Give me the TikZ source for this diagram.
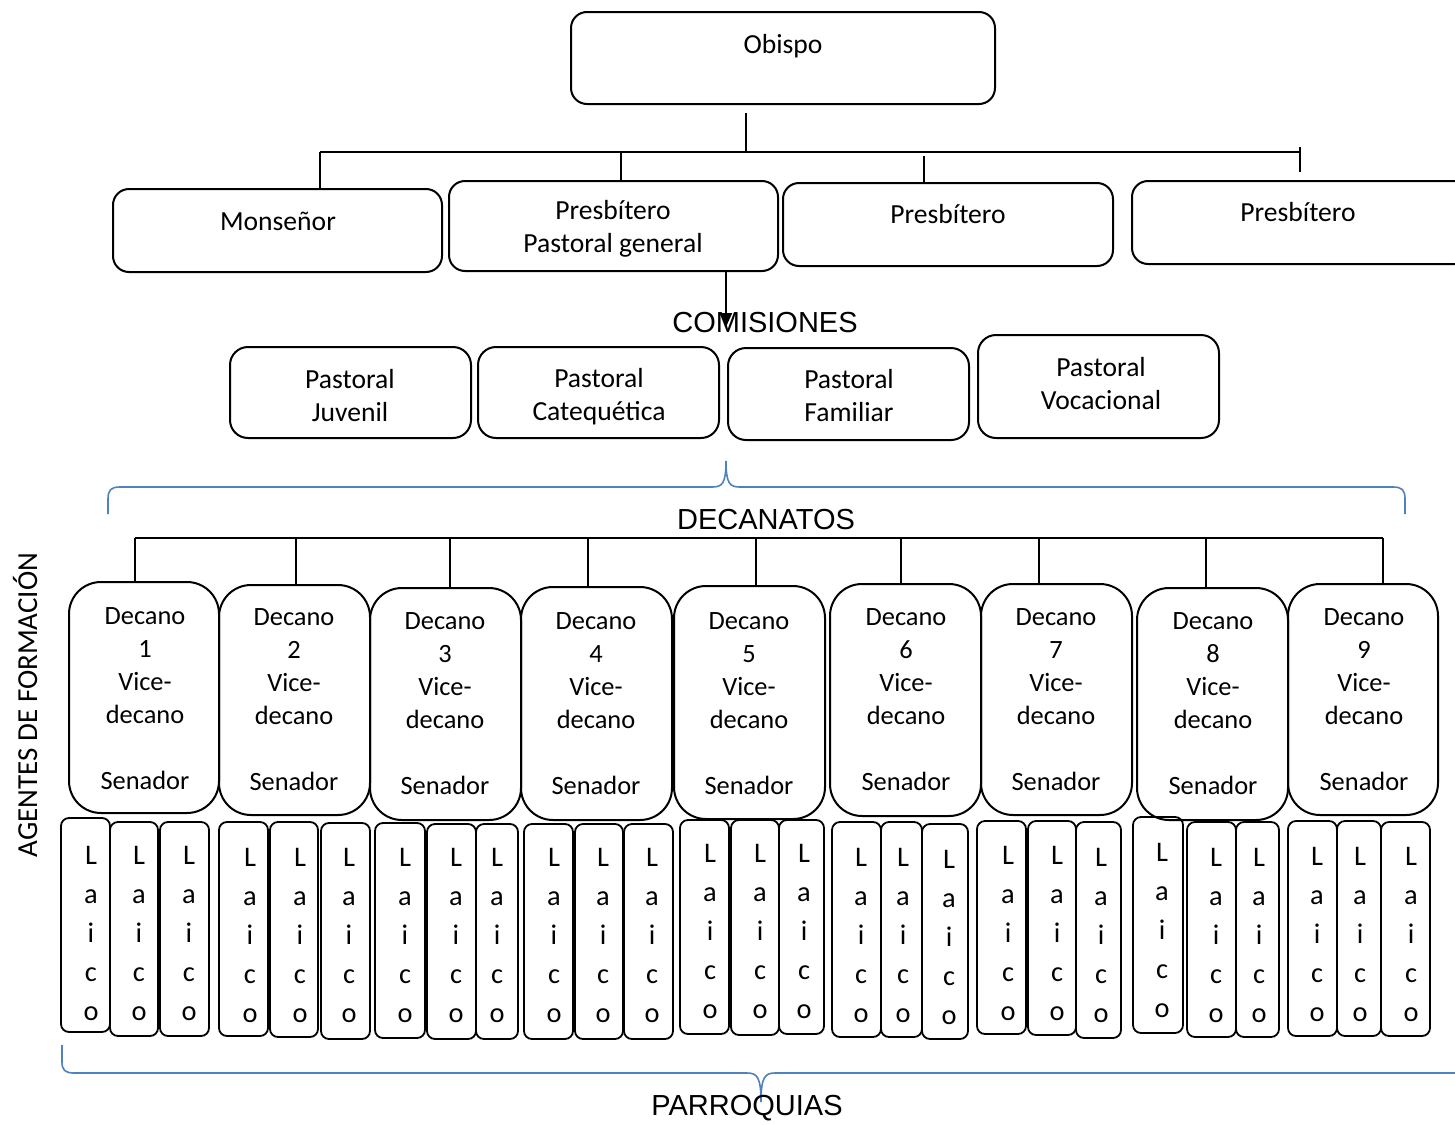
\documentclass[tikz,border=0pt]{standalone}
\usepackage{fontspec}
\setmainfont{Carlito}
\newfontfamily\arialf{Liberation Sans}
\usetikzlibrary{fit,arrows.meta}
\definecolor{braceblue}{RGB}{79,129,189}
\begin{document}
\begin{tikzpicture}[x=0.5pt,y=-0.5pt,
  every node/.style={font=\fontsize{13.5}{16.5}\selectfont},
  topbox/.style={draw, line width=1pt, rounded corners=8pt, inner sep=0pt},
  combox/.style={draw, line width=1pt, rounded corners=9pt, inner sep=0pt},
  decbox/.style={draw, line width=1pt, rounded corners=16pt, inner sep=0pt},
  dectxt/.style={align=center, inner sep=0pt, font=\fontsize{13.2}{16.5}\selectfont},
  laibox/.style={draw, line width=0.9pt, rounded corners=4pt, inner sep=0pt},
  txt/.style={align=center, inner sep=0pt, font=\fontsize{13.8}{16.5}\selectfont},
  laitxt/.style={align=center, inner sep=0pt, font=\fontsize{14.2}{19.5}\selectfont},
  big/.style={inner sep=0pt, font=\arialf\fontsize{14.5}{17}\selectfont},
  conn/.style={line width=1pt},
  brace/.style={draw=braceblue, line width=0.8pt}]
\clip (0,0) rectangle (1455,1124);
\fill[white] (0,0) rectangle (1455,1124);

% top level
\node[topbox, fit={(571,12) (995,104)}] (obispo) {};
\node[txt] (tobispo) at (783,46) {Obispo};

\node[topbox, fit={(113,189) (442,272)}] (mons) {};
\node[txt] (tmons) at (278,221) {Monseñor};
\node[topbox, fit={(449,181) (778,271)}] (pg) {};
\node[txt] (tpg) at (613,229) {Presbítero\\Pastoral general};
\node[topbox, fit={(783,183) (1113,266)}] (p3) {};
\node[txt] (tp3) at (948,214) {Presbítero};
\node[topbox, fit={(1132,181) (1480,264)}] (p4) {};
\node[txt] (tp4) at (1298,212) {Presbítero};

\coordinate (busTop) at (746,152);
\coordinate (h1) at (320,152);
\coordinate (h2) at (1300,152);
\coordinate (h3) at (621,152);
\coordinate (h4) at (924,156);
\coordinate (h5) at (1300,147);
\coordinate (h6) at (1300,172);
\draw[conn] ([yshift=-4pt]busTop |- obispo.south) -- (busTop);
\draw[conn] (h1) -- (h2);
\draw[conn] (h1) -- (h1 |- mons.north);
\draw[conn] (h3) -- (h3 |- pg.north);
\draw[conn] (h4) -- (h4 |- p3.north);
\draw[conn] (h5) -- (h6);

% comisiones
\node[big] (comis) at (765,323) {COMISIONES};
\coordinate (arrE) at (726,327);
\draw[conn, -{Triangle[length=7pt,width=6pt]}] (pg.south -| arrE) -- (arrE);

\node[combox, fit={(230,347) (471,438)}] (c1) {};
\node[txt] (tc1) at (350,396) {Pastoral\\Juvenil};
\node[combox, fit={(478,347) (719,438)}] (c2) {};
\node[txt] (tc2) at (599,397) {Pastoral\\Catequética};
\node[combox, fit={(728,348) (969,440)}] (c3) {};
\node[txt] (tc3) at (849,396) {Pastoral\\Familiar};
\node[combox, fit={(978,335) (1219,438)}] (c4) {};
\node[txt] (tc4) at (1101,384) {Pastoral\\Vocacional};

% top brace
\draw[brace] (108,514) -- (108,499) .. controls (108,490) and (111,487) .. (120,487)
  -- (712,487) .. controls (722,487) and (726,484) .. (726,461)
  .. controls (726,484) and (730,487) .. (740,487) -- (1393,487)
  .. controls (1402,487) and (1405,490) .. (1405,499) -- (1405,514);

\node[big] (decan) at (766,520) {DECANATOS};

% decanatos
\coordinate (dL) at (135,538);
\coordinate (dR) at (1383,538);
\draw[conn] (dL) -- (dR);
\foreach \n/\a/\b/\c/\d/\x/\tx/\ty in {1/69/219/582/813/135/145/699, 2/219/370/585/815/296/294/700, 3/370/521/588/820/450/445/704, 4/521/672/587/820/588/596/704, 5/674/825/586/819/756/749/704, 6/830/981/584/816/901/906/700, 7/981/1132/584/815/1039/1056/700, 8/1137/1288/588/820/1206/1213/704, 9/1288/1438/584/815/1383/1364/700}{
  \node[decbox, fit={(\a,\c) (\b,\d)}] (d\n) {};
  \node[dectxt] (dt\n) at (\tx,\ty) {Decano\\\n\\Vice-\\decano\\~\\Senador};
  \coordinate (b\n) at (\x,538);
  \draw[conn] (b\n) -- (b\n |- d\n.north);
}

% laicos
\foreach \n/\a/\b/\c/\d/\tx/\ty in {
  11/61/110/818/1032/91/933, 12/110/158/822/1036/139/933, 13/160/209/822/1036/189/933,
  21/219/268/822/1036/250/935, 22/270/318/822/1037/300/935, 23/321/370/823/1039/349/935,
  31/375/425/823/1038/405/935, 32/427/476/824/1039/456/935, 33/476/518/824/1039/497/935,
  41/524/573/824/1039/554/935, 42/575/623/824/1039/603/935, 43/624/673/824/1039/652/935,
  51/680/729/820/1034/710/931, 52/731/779/820/1035/760/931, 53/779/824/820/1034/804/931,
  61/832/881/822/1037/861/935, 62/881/922/822/1037/903/935, 63/922/968/824/1039/949/937,
  71/977/1026/821/1034/1008/933, 72/1028/1076/821/1035/1057/933, 73/1076/1121/822/1038/1101/935,
  81/1133/1183/817/1033/1162/930, 82/1187/1236/822/1037/1216/935, 83/1236/1279/822/1037/1259/935,
  91/1288/1337/821/1036/1317/934, 92/1337/1381/821/1036/1360/934, 93/1381/1430/822/1036/1411/934}{
  \node[laibox, fit={(\a,\c) (\b,\d)}] (l\n) {};
  \node[laitxt] (lt\n) at (\tx,\ty) {L\\a\\i\\c\\o};
}

% bottom brace
\draw[brace] (62,1045) -- (62,1062) .. controls (62,1070) and (65,1073) .. (74,1073)
  -- (747,1073) .. controls (757,1073) and (761,1077) .. (761,1102)
  .. controls (761,1077) and (765,1073) .. (775,1073) -- (1480,1073);

\node[big] (parr) at (747,1108) {PARROQUIAS};

\node[inner sep=0pt, rotate=90, font=\fontsize{14.5}{17}\selectfont] (agentes) at (25,705) {AGENTES DE FORMACIÓN};
\end{tikzpicture}
\end{document}
